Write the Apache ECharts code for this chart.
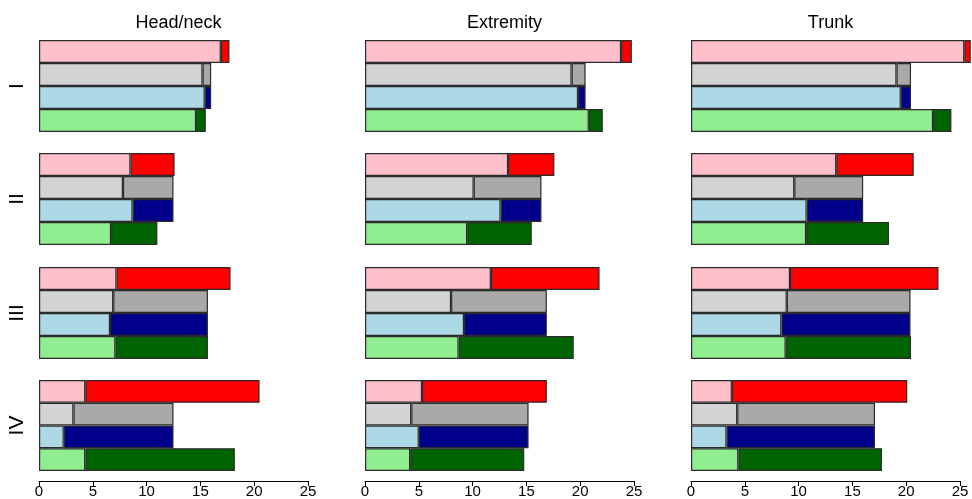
<!DOCTYPE html>
<html>
<head>
<meta charset="utf-8">
<script src="https://cdn.jsdelivr.net/npm/echarts@6/dist/echarts.min.js"></script>
<style>
html,body{margin:0;padding:0;background:#fff;}
#chart{width:972px;height:499px;}
</style>
</head>
<body>
<div id="chart"></div>
<script>
// ---- data ----
const sites = ['Head/neck', 'Extremity', 'Trunk'];
const stages = ['I', 'II', 'III', 'IV'];
const xTicks = [0, 5, 10, 15, 20, 25];
const groups = ['pink', 'gray', 'blue', 'green'];
// values indexed [site][stage]
const pinkLight  = [[16.9, 8.5, 7.2, 4.3], [23.8, 13.3, 11.7, 5.3], [25.4, 13.5, 9.2, 3.8]];
const pinkTotal  = [[17.7, 12.6, 17.8, 20.5], [24.8, 17.6, 21.8, 16.9], [26.0, 20.7, 23.0, 20.1]];
const grayLight  = [[15.2, 7.8, 6.9, 3.2], [19.2, 10.1, 8.0, 4.3], [19.1, 9.6, 8.9, 4.3]];
const grayTotal  = [[16.0, 12.5, 15.7, 12.5], [20.5, 16.4, 16.9, 15.2], [20.45, 16.0, 20.4, 17.1]];
const blueLight  = [[15.4, 8.7, 6.6, 2.3], [19.8, 12.6, 9.2, 5.0], [19.5, 10.75, 8.4, 3.3]];
const blueTotal  = [[16.0, 12.5, 15.7, 12.5], [20.5, 16.4, 16.9, 15.2], [20.45, 16.0, 20.4, 17.1]];
const greenLight = [[14.6, 6.7, 7.1, 4.3], [20.8, 9.5, 8.7, 4.2], [22.5, 10.7, 8.8, 4.4]];
const greenTotal = [[15.5, 11.0, 15.7, 18.2], [22.1, 15.5, 19.4, 14.8], [24.2, 18.4, 20.45, 17.75]];

// ---- styling ----
const lightColors = ['#FFC0CB', '#D3D3D3', '#ADD8E6', '#90EE90'];
const darkColors  = ['#FF0000', '#A9A9A9', '#00008B', '#006400'];
const lightVals = [pinkLight, grayLight, blueLight, greenLight];
const totalVals = [pinkTotal, grayTotal, blueTotal, greenTotal];

const colLeft = [39, 365, 691];
const colWidth = 269;
const rowTop = [40, 153, 267, 380];
const rowHeight = 92;
const FONT = 'Liberation Sans, Arial, sans-serif';

const grid = [], xAxis = [], yAxis = [], series = [], title = [];
sites.forEach((site, c) => {
  title.push({
    text: site, left: colLeft[c] + colWidth / 2, top: 9, textAlign: 'center',
    textStyle: { fontFamily: FONT, fontSize: 18, fontWeight: 'normal', color: '#000' }
  });
  stages.forEach((stage, r) => {
    const idx = grid.length;
    grid.push({ left: colLeft[c], top: rowTop[r], width: colWidth, height: rowHeight, containLabel: false });
    const bottom = r === stages.length - 1;
    xAxis.push({
      gridIndex: idx, type: 'value', min: 0, max: 25, interval: 5,
      show: bottom, offset: 10,
      splitLine: { show: false },
      axisLine: { show: bottom, lineStyle: { color: '#000', width: 1 } },
      axisTick: { show: bottom, length: 5, lineStyle: { color: '#000' } },
      axisLabel: {
        show: bottom, margin: 3, color: '#000', fontFamily: FONT, fontSize: 15,
        customValues: xTicks
      }
    });
    yAxis.push({
      gridIndex: idx, type: 'category', data: groups, inverse: true,
      axisLine: { show: false }, axisTick: { show: false }, axisLabel: { show: false },
      splitLine: { show: false },
      name: c === 0 ? stage : '', nameLocation: 'middle', nameRotate: 90, nameGap: 11,
      nameTextStyle: { fontFamily: FONT, fontSize: 21, color: '#000' }
    });
    const lightData = groups.map((g, k) => ({
      value: lightVals[k][c][r], itemStyle: { color: lightColors[k] }
    }));
    const darkData = groups.map((g, k) => ({
      value: +(totalVals[k][c][r] - lightVals[k][c][r]).toFixed(3), itemStyle: { color: darkColors[k] }
    }));
    const common = {
      type: 'bar', xAxisIndex: idx, yAxisIndex: idx, stack: 's' + idx,
      barWidth: '100%', clip: false, silent: true, animation: false,
    };
    series.push(Object.assign({}, common, {
      data: lightData, itemStyle: { borderColor: '#2b2b2b', borderWidth: 1.2 }
    }));
    series.push(Object.assign({}, common, {
      data: darkData, itemStyle: { borderColor: '#2b2b2b', borderWidth: 1.2 }
    }));
  });
});

const chart = echarts.init(document.getElementById('chart'), null, { renderer: 'canvas' });
chart.setOption({
  backgroundColor: '#fff',
  animation: false,
  title, grid, xAxis, yAxis, series
});
</script>
</body>
</html>
